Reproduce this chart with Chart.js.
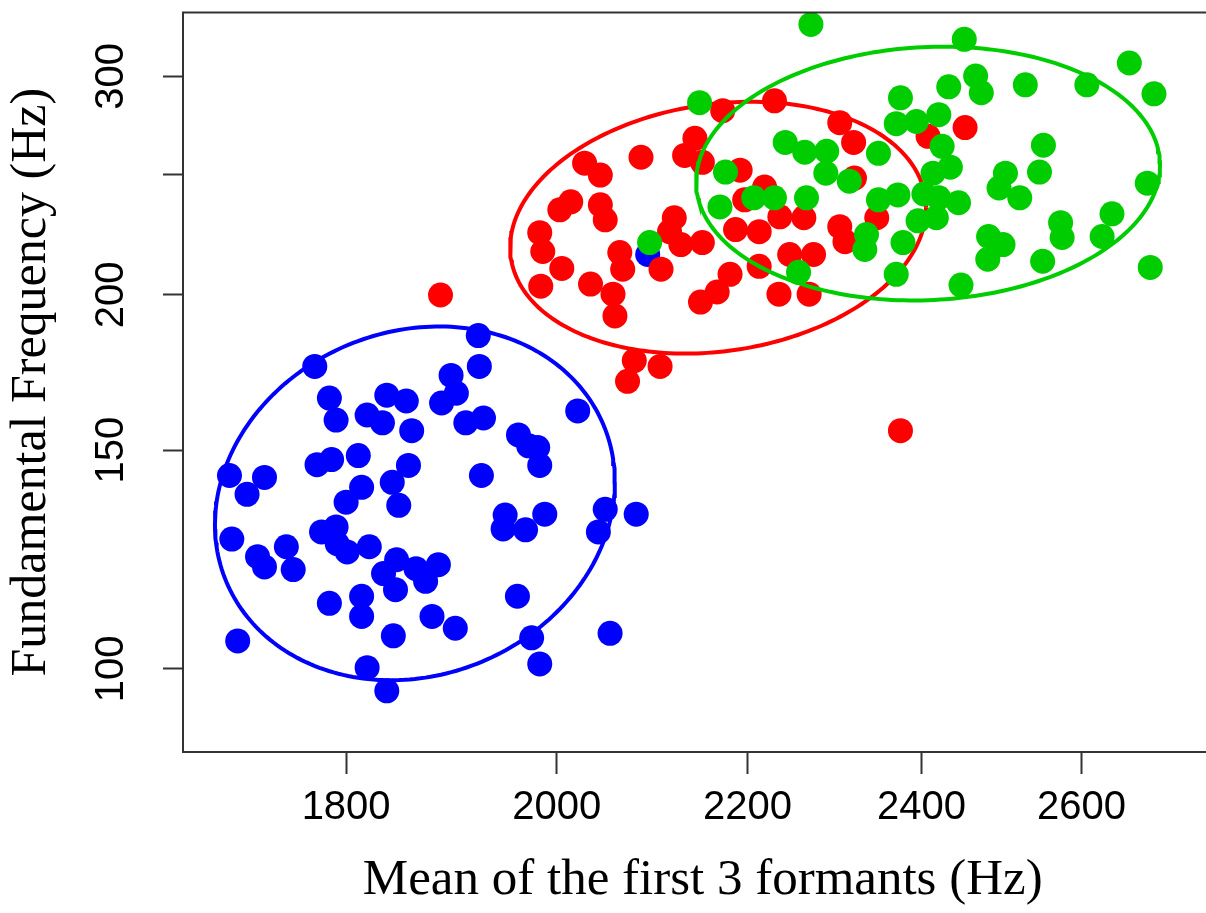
<!DOCTYPE html>
<html>
<head>
<meta charset="utf-8">
<script src="https://cdn.jsdelivr.net/npm/chart.js@4.4.1/dist/chart.umd.min.js"></script>
<style>
  html, body { margin: 0; padding: 0; background: #fff; overflow: hidden; width: 1206px; height: 913px; }
  canvas { display: block; }
</style>
</head>
<body>
<canvas id="chart" width="1235" height="913"></canvas>
<script>
// Axis settings (both axes logarithmic)
const X_TICKS = [1800, 2000, 2200, 2400, 2600];
const Y_TICKS = [100, 150, 200, 250, 300];
const Y_TICK_LABELS = ['100', '150', '200', '', '300'];
const X_RANGE = [1659, 2790];
const Y_RANGE = [85.7, 337.7];

// Group 1 (blue)
const blueX = [1698,1713,1728,1700,1722,1728,1747,1753,1705,1772,1785,1791,1819,1833,1837,1855,1860,
  1774,1787,1811,1814,1800,1842,1857,1848,1923,1924,1897,1902,1888,1911,1928,2021,1962,1972,1981,1983,
  1926,1949,1947,1969,1988,2049,2042,2081,1778,1791,1792,1801,1821,1834,1846,1845,1814,1814,1785,1843,
  1819,1837,1864,1873,1885,1879,1901,1961,1975,1983,2054,2093];
const blueY = [143.1,138.2,142.6,127.2,123.1,120.8,125.4,120.2,105.3,175.2,165.2,158.6,160.1,157.8,166.1,164.3,155.5,
  146.0,147.4,148.5,140.0,136.2,141.3,145.8,135.4,185.5,175.2,172.3,166.7,163.7,157.8,159.2,161.3,154.3,151.2,150.7,145.8,
  143.1,133.0,129.6,129.4,133.2,134.4,128.9,133.2,128.9,130.1,126.1,124.2,125.4,119.3,122.4,115.8,114.4,110.2,112.9,106.3,
  100.2,96.0,120.4,117.6,121.3,110.2,107.8,114.4,105.9,100.9,106.8,215.6];

// Group 2 (red)
const redX = [2028,2044,2086,2132,2143,2151,2173,2230,2003,2014,2044,2049,1983,1986,2005,1984,
  2064,2067,2121,2116,2128,2151,2107,2034,2057,2059,2149,2167,2079,2106,2072,1887,
  2304,2320,2321,2192,2219,2187,2213,2236,2263,2304,2310,2347,2247,2274,2213,2181,2235,2269,
  2408,2453,2375,2197];
const redY = [255.4,249.8,258.2,259.1,267.4,255.8,281.5,286.7,234.2,237.7,236.4,229.9,224.5,216.8,210.1,203.3,
  216.4,209.8,230.8,224.9,219.6,220.4,209.8,204.1,200.3,192.4,197.4,201.1,177.1,175.2,170.4,200.0,
  275.3,265.4,248.4,252.1,244.3,225.8,224.9,231.2,230.8,227.0,220.8,230.8,215.6,215.6,210.9,207.8,200.3,200.3,
  268.4,272.8,155.5,238.6];

// Group 3 (green)
const greenX = [2271,2148,2375,2452,2433,2466,2473,2528,2607,2663,2696,2421,2394,2370,2425,2435,
  2551,2546,2503,2495,2521,2445,2414,2418,2687,2640,2627,2573,2575,2482,2500,2481,2550,2691,2448,
  2242,2264,2289,2288,2315,2349,2176,2170,2207,2230,2266,2349,2372,2403,2396,2335,2333,2378,2370,2257,2095,2421];
const greenY = [330.3,285.7,288.3,321.3,294.2,300.2,291.0,295.3,295.3,307.5,290.4,279.4,275.9,274.8,263.5,253.5,
  264.0,251.2,250.7,243.9,239.5,237.3,250.7,230.8,246.1,232.5,222.9,228.7,222.5,222.9,219.6,213.7,212.9,210.5,203.7,
  265.4,260.6,261.1,250.7,247.0,260.1,251.2,235.5,239.5,239.5,239.5,238.6,240.8,241.2,229.5,223.7,217.6,220.4,207.8,208.6,220.4,239.5];

// Concentration ellipses: [centre x, centre y, log-spread x, log-spread y, correlation]
const blueEllipse  = [1863, 135.9, 0.100, 0.328, 0.12];
const redEllipse   = [2168, 226.6, 0.104, 0.2335, 0.157];
const greenEllipse = [2408, 250.5, 0.116, 0.2353, 0.064];

const BLUE = '#0000FF', RED = '#FF0000', GREEN = '#00CD00';
const TICK_FONT = '"Liberation Sans", Arial, sans-serif';
const TITLE_FONT = '"Liberation Serif", "Times New Roman", serif';

function ellipseCurve(e) {
  const [cx, cy, sx, sy, r] = e;
  const pts = [];
  const n = 240;
  const k = Math.sqrt(1 - r * r);
  for (let i = 0; i <= n; i++) {
    const t = 2 * Math.PI * i / n;
    const lx = Math.log(cx) + sx * Math.cos(t);
    const ly = Math.log(cy) + sy * (r * Math.cos(t) + k * Math.sin(t));
    pts.push({ x: Math.exp(lx), y: Math.exp(ly) });
  }
  return pts;
}

const toPoints = (xs, ys) => xs.map((x, i) => ({ x, y: ys[i] }));

const pointSet = (label, xs, ys, color, order) => ({
  label, order,
  data: toPoints(xs, ys),
  showLine: false,
  pointStyle: 'circle',
  pointRadius: 12.5,
  pointHoverRadius: 12.5,
  pointBackgroundColor: color,
  backgroundColor: color,
  pointBorderWidth: 0,
  borderWidth: 0
});

const ellipseSet = (label, e, color, order) => ({
  label, order,
  data: ellipseCurve(e),
  showLine: true,
  borderColor: color,
  borderWidth: 4,
  pointRadius: 0,
  pointHoverRadius: 0,
  fill: false,
  tension: 0
});

const framePlugin = {
  id: 'frame',
  afterDatasetsDraw(chart) {
    const { ctx, chartArea: { left, top, right, bottom } } = chart;
    ctx.save();
    ctx.strokeStyle = '#333';
    ctx.lineWidth = 2;
    ctx.strokeRect(left, top, right - left, bottom - top);
    ctx.restore();
  },
  afterDraw(chart) {
    const { ctx } = chart;
    const ys = chart.scales.y;
    ctx.save();
    ctx.fillStyle = '#000';
    ctx.font = '40px ' + TICK_FONT;
    ctx.textAlign = 'center';
    ctx.textBaseline = 'middle';
    Y_TICKS.forEach((v, i) => {
      const label = Y_TICK_LABELS[i];
      if (!label) return;
      const py = ys.getPixelForValue(v);
      ctx.save();
      ctx.translate(ys.right - 71, py);
      ctx.rotate(-Math.PI / 2);
      ctx.fillText(label, 0, 0);
      ctx.restore();
    });
    ctx.restore();
  }
};

new Chart(document.getElementById('chart'), {
  type: 'scatter',
  data: {
    datasets: [
      ellipseSet('green ellipse', greenEllipse, GREEN, 0),
      pointSet('green', greenX, greenY, GREEN, 1),
      ellipseSet('red ellipse', redEllipse, RED, 2),
      pointSet('red', redX, redY, RED, 3),
      ellipseSet('blue ellipse', blueEllipse, BLUE, 4),
      pointSet('blue', blueX, blueY, BLUE, 5)
    ]
  },
  options: {
    responsive: false,
    devicePixelRatio: 1,
    animation: false,
    events: [],
    layout: { padding: { top: 6, right: 7, bottom: 0, left: 0 } },
    plugins: { legend: { display: false }, tooltip: { enabled: false } },
    scales: {
      x: {
        type: 'logarithmic',
        position: 'bottom',
        min: X_RANGE[0],
        max: X_RANGE[1],
        afterBuildTicks: s => { s.ticks = X_TICKS.map(v => ({ value: v })); },
        afterFit: s => { s.height = 161; },
        ticks: {
          callback: v => String(v),
          font: { family: TICK_FONT, size: 40 },
          color: '#000',
          padding: 10,
          autoSkip: false,
          minRotation: 0,
          maxRotation: 0
        },
        grid: { drawOnChartArea: false, drawTicks: true, tickLength: 22, tickWidth: 2, tickColor: '#333' },
        border: { display: false },
        title: {
          display: true,
          text: 'Mean of the first 3 formants (Hz)',
          font: { family: TITLE_FONT, size: 51, lineHeight: 1 },
          color: '#000',
          padding: { top: 0, bottom: 7 }
        }
      },
      y: {
        type: 'logarithmic',
        position: 'left',
        min: Y_RANGE[0],
        max: Y_RANGE[1],
        afterBuildTicks: s => { s.ticks = Y_TICKS.map(v => ({ value: v })); },
        afterFit: s => { s.width = 183; },
        ticks: { display: false },
        grid: { drawOnChartArea: false, drawTicks: true, tickLength: 20, tickWidth: 2, tickColor: '#333' },
        border: { display: false },
        title: {
          display: true,
          text: 'Fundamental Frequency (Hz)',
          font: { family: TITLE_FONT, size: 50, lineHeight: 1 },
          color: '#000',
          padding: { top: 7, bottom: 0 }
        }
      }
    }
  },
  plugins: [framePlugin]
});
</script>
</body>
</html>
